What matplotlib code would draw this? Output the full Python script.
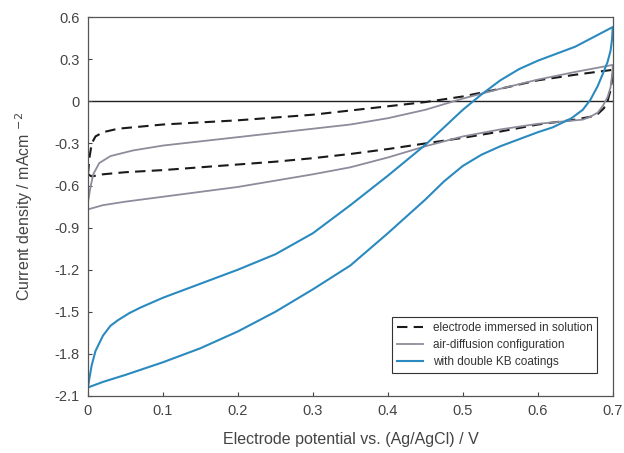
import numpy as np
import matplotlib
matplotlib.use('Agg')
import matplotlib.pyplot as plt

plt.rcParams['font.family'] = ['Liberation Sans', 'DejaVu Sans']

# electrode immersed in solution (dashed): forward then reverse scan
v_sol = [0, 0.002, 0.005, 0.01, 0.02, 0.04, 0.07, 0.1, 0.15, 0.2, 0.25, 0.3, 0.35, 0.4, 0.45, 0.5, 0.55, 0.6, 0.65, 0.7,
         0.699, 0.697, 0.693, 0.688, 0.68, 0.67, 0.65, 0.6, 0.55, 0.5, 0.45, 0.4, 0.35, 0.3, 0.25, 0.2, 0.15, 0.1, 0.05, 0.02, 0.005, 0]
i_sol = [-0.52, -0.40, -0.30, -0.25, -0.22, -0.195, -0.18, -0.165, -0.15, -0.135, -0.115, -0.095, -0.065, -0.035, -0.005, 0.035, 0.09, 0.15, 0.19, 0.225,
         0.15, 0.08, 0.0, -0.05, -0.09, -0.11, -0.13, -0.165, -0.215, -0.26, -0.30, -0.34, -0.375, -0.405, -0.43, -0.45, -0.47, -0.49, -0.505, -0.52, -0.535, -0.52]

# air-diffusion configuration (gray)
v_air = [0, 0.003, 0.007, 0.015, 0.03, 0.06, 0.1, 0.15, 0.2, 0.25, 0.3, 0.35, 0.4, 0.45, 0.5, 0.55, 0.6, 0.65, 0.7,
         0.699, 0.697, 0.693, 0.687, 0.68, 0.67, 0.66, 0.63, 0.6, 0.55, 0.5, 0.45, 0.4, 0.35, 0.3, 0.25, 0.2, 0.15, 0.1, 0.05, 0.02, 0]
i_air = [-0.72, -0.62, -0.52, -0.44, -0.39, -0.35, -0.315, -0.285, -0.255, -0.225, -0.195, -0.165, -0.12, -0.06, 0.02, 0.09, 0.155, 0.21, 0.26,
         0.18, 0.10, 0.03, -0.03, -0.08, -0.11, -0.13, -0.145, -0.16, -0.20, -0.25, -0.32, -0.40, -0.47, -0.52, -0.565, -0.61, -0.645, -0.68, -0.715, -0.74, -0.77]

# with double KB coatings (blue)
v_kb = [0, 0.002, 0.005, 0.01, 0.02, 0.03, 0.04, 0.055, 0.07, 0.1, 0.15, 0.2, 0.25, 0.3, 0.35, 0.4, 0.45, 0.5, 0.525, 0.55, 0.575, 0.6, 0.65, 0.7,
        0.699, 0.697, 0.693, 0.687, 0.68, 0.67, 0.66, 0.645, 0.62, 0.6, 0.575, 0.55, 0.525, 0.5, 0.475, 0.45, 0.4, 0.35, 0.3, 0.25, 0.2, 0.15, 0.1, 0.05, 0.02, 0]
i_kb = [-2.04, -1.97, -1.88, -1.78, -1.67, -1.60, -1.56, -1.51, -1.47, -1.40, -1.30, -1.20, -1.09, -0.94, -0.74, -0.53, -0.31, -0.06, 0.05, 0.15, 0.23, 0.29, 0.39, 0.53,
        0.44, 0.36, 0.28, 0.20, 0.11, 0.01, -0.06, -0.12, -0.185, -0.22, -0.27, -0.32, -0.38, -0.46, -0.57, -0.70, -0.94, -1.17, -1.34, -1.50, -1.64, -1.76, -1.86, -1.95, -2.00, -2.04]

xticks = [0, 0.1, 0.2, 0.3, 0.4, 0.5, 0.6, 0.7]
xticklabels = ['0', '0.1', '0.2', '0.3', '0.4', '0.5', '0.6', '0.7']
yticks = [-2.1, -1.8, -1.5, -1.2, -0.9, -0.6, -0.3, 0, 0.3, 0.6]
yticklabels = ['-2.1', '-1.8', '-1.5', '-1.2', '-0.9', '-0.6', '-0.3', '0', '0.3', '0.6']

fig = plt.figure(figsize=(6.24, 4.53), dpi=100)
ax = fig.add_axes([0.141, 0.126, 0.841, 0.836])

ax.axhline(0, color='#222222', lw=1.0, zorder=1)
ax.plot(v_sol, i_sol, color='#1a1a1a', lw=1.5, ls=(0, (5, 3)), label='electrode immersed in solution')
ax.plot(v_air, i_air, color='#8c8c9c', lw=1.3, label='air-diffusion configuration')
ax.plot(v_kb, i_kb, color='#2a8ac0', lw=1.5, label='with double KB coatings')

ax.set_xlim(0, 0.7)
ax.set_ylim(-2.1, 0.6)
ax.set_xticks(xticks)
ax.set_xticklabels(xticklabels)
ax.set_yticks(yticks)
ax.set_yticklabels(yticklabels)
ax.tick_params(direction='in', length=3, labelsize=10.5, colors='#444444', pad=6)
for s in ax.spines.values():
    s.set_color('#555555')
    s.set_linewidth(0.9)

ax.set_xlabel('Electrode potential vs. (Ag/AgCl) / V', fontsize=11.5, color='#444444', labelpad=10)
ax.set_ylabel('Current density / mAcm $^{-2}$', fontsize=11.5, color='#444444', labelpad=14)

leg = ax.legend(loc='lower right', bbox_to_anchor=(0.97, 0.06), borderaxespad=0, fontsize=8.5,
                fancybox=False, framealpha=1, edgecolor='#333333', handlelength=2.2, labelspacing=0.45)
leg.get_frame().set_linewidth(0.8)
for t in leg.get_texts():
    t.set_color('#333333')

fig.savefig('out.png', dpi=100)
